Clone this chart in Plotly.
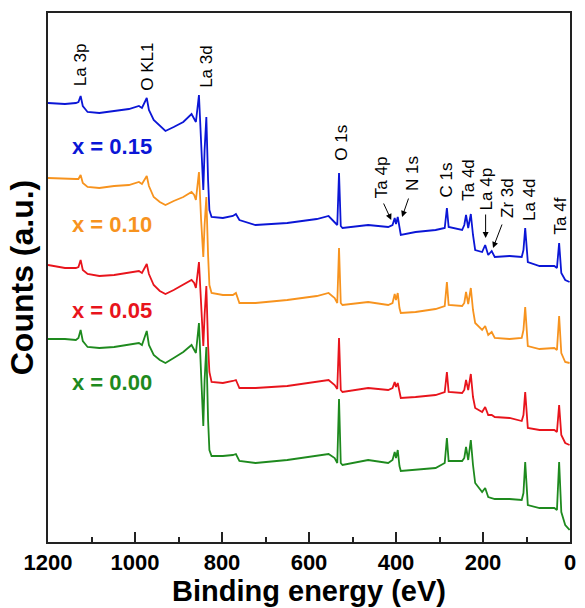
import plotly.graph_objects as go

# Binding energies (eV) shared by all survey spectra
energy = [1200, 1161, 1136, 1130, 1125, 1120, 1109, 1082, 1048, 1014,
          991, 984, 973, 968, 957, 943, 930, 911, 889, 870,
          864, 860, 853, 848, 843, 840, 836, 832, 829, 824,
          798, 775, 768, 760, 723, 650, 582, 555, 541, 535,
          531, 527, 523, 464, 418, 408, 403, 400, 396, 392,
          389, 355, 309, 288, 283, 279, 248, 243, 239, 234,
          228, 223, 218, 202, 195, 188, 180, 173, 139, 111,
          107, 103, 97, 70, 36, 30, 25, 20, 11, 1]

# Stacked intensities (a.u.), one list per composition
counts_015 = [443, 442, 443, 444, 450, 440, 434, 433, 435, 437,
              440, 438, 448, 436, 426, 420, 415, 419, 424, 432,
              428, 424, 451, 396, 356, 396, 429, 366, 336, 329,
              328, 330, 332, 326, 321, 323, 327, 330, 324, 321,
              373, 320, 318, 321, 319, 321, 328, 322, 329, 316,
              311, 314, 316, 318, 338, 319, 316, 321, 331, 318,
              332, 311, 296, 294, 301, 291, 295, 289, 290, 289,
              296, 318, 284, 280, 280, 278, 303, 273, 266, 264]
counts_010 = [368, 367, 367, 367, 371, 363, 359, 358, 360, 361,
              364, 362, 370, 360, 349, 344, 341, 345, 349, 354,
              351, 346, 374, 326, 289, 321, 349, 291, 261, 253,
              251, 251, 253, 243, 243, 246, 250, 253, 248, 243,
              298, 243, 241, 244, 241, 243, 252, 246, 253, 238,
              233, 234, 237, 240, 264, 241, 240, 243, 254, 242,
              258, 236, 223, 216, 220, 211, 214, 208, 207, 208,
              216, 239, 200, 197, 198, 196, 230, 193, 184, 183]
counts_005 = [281, 278, 278, 279, 286, 276, 272, 270, 271, 273,
              275, 273, 282, 272, 261, 255, 252, 256, 261, 266,
              263, 258, 284, 236, 200, 231, 260, 201, 174, 164,
              163, 165, 166, 158, 158, 160, 164, 166, 161, 157,
              208, 156, 154, 158, 156, 158, 164, 159, 163, 152,
              148, 149, 151, 154, 174, 154, 153, 156, 166, 156,
              172, 149, 138, 134, 139, 131, 131, 129, 128, 125,
              131, 154, 118, 116, 116, 114, 141, 111, 103, 101]
counts_000 = [207, 207, 206, 208, 216, 205, 199, 198, 199, 201,
              203, 201, 215, 201, 191, 186, 183, 188, 194, 201,
              196, 193, 223, 166, 120, 166, 199, 126, 96, 90,
              90, 91, 92, 85, 83, 86, 90, 92, 88, 83,
              147, 83, 81, 86, 83, 86, 94, 88, 96, 80,
              75, 76, 78, 83, 108, 85, 85, 88, 99, 86,
              106, 81, 63, 54, 58, 49, 48, 47, 47, 46,
              53, 84, 41, 38, 38, 36, 84, 34, 21, 16]

series_labels = ["x = 0.15", "x = 0.10", "x = 0.05", "x = 0.00"]
series_colors = ["#0b16d6", "#f7931e", "#e8141c", "#1e8a1e"]
series_counts = [counts_015, counts_010, counts_005, counts_000]
# label anchor (energy, intensity) for each composition tag
label_energy = [1054, 1054, 1054, 1054]
label_level = [400, 322, 236, 164]

# Peak assignments: text, energy of label, bottom of label (intensity)
peak_names = ["La 3p", "O KL1", "La 3d", "O 1s", "Ta 4p", "N 1s",
              "C 1s", "Ta 4d", "La 4p", "Zr 3d", "La 4d", "Ta 4f"]
peak_label_energy = [1125, 973, 836, 527, 434, 362, 285, 235, 191, 145, 93, 23]
peak_label_bottom = [458, 453, 456, 383, 346, 353, 346, 343, 334, 326, 323, 309]

# Arrows pointing from label to weak peaks: (start E, start I, end E, end I)
arrow_from_e = [430, 370, 194, 155]
arrow_from_i = [344, 349, 333, 323]
arrow_to_e = [411, 386, 194, 177]
arrow_to_i = [326, 329, 308, 298]

FONT = "Arial, Liberation Sans, Helvetica, sans-serif"

fig = go.Figure()
for name, color, counts in zip(series_labels, series_colors, series_counts):
    fig.add_trace(go.Scatter(x=energy, y=counts, mode="lines", name=name,
                             line=dict(color=color, width=1.8),
                             showlegend=False))

annotations = []
for name, color, e, lvl in zip(series_labels, series_colors, label_energy, label_level):
    annotations.append(dict(x=e, y=lvl, text=name, showarrow=False,
                            xanchor="center", yanchor="middle",
                            font=dict(family=FONT, size=22, color=color, weight="bold")))

for name, e, b in zip(peak_names, peak_label_energy, peak_label_bottom):
    annotations.append(dict(x=e, y=b, text=name, showarrow=False, textangle=-90,
                            xanchor="center", yanchor="bottom",
                            font=dict(family=FONT, size=17, color="black")))

for fe, fi, te, ti in zip(arrow_from_e, arrow_from_i, arrow_to_e, arrow_to_i):
    annotations.append(dict(x=te, y=ti, ax=fe, ay=fi, axref="x", ayref="y",
                            text="", showarrow=True, arrowhead=2, arrowsize=1.2,
                            arrowwidth=1, arrowcolor="black"))

fig.update_layout(
    width=585, height=608,
    margin=dict(l=48, r=9, t=13, b=66),
    paper_bgcolor="white", plot_bgcolor="white",
    annotations=annotations,
    xaxis=dict(range=[1200, 0], showline=True, mirror=True, linecolor="#222",
               linewidth=1.5, ticks="inside", ticklen=10, tickwidth=1.5,
               tickcolor="#222", dtick=200, tick0=0, showgrid=False,
               zeroline=False,
               minor=dict(dtick=100, ticks="inside", ticklen=5, tickwidth=1.5,
                          tickcolor="#222", showgrid=False),
               tickfont=dict(family=FONT, size=22, color="black", weight="bold"),
               title=dict(text="Binding energy (eV)", standoff=2,
                          font=dict(family=FONT, size=29, color="black", weight="bold"))),
    yaxis=dict(range=[4, 533], showline=True, mirror=True, linecolor="#222",
               linewidth=1.5, ticks="", showticklabels=False, showgrid=False,
               zeroline=False,
               title=dict(text="Counts (a.u.)", standoff=3,
                          font=dict(family=FONT, size=32, color="black", weight="bold"))),
)

fig.write_html("out.html")
